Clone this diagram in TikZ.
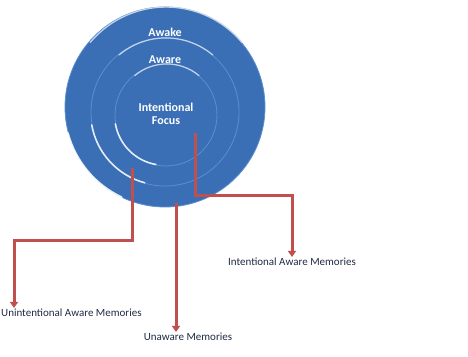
\documentclass[tikz,border=0pt]{standalone}
\usepackage{fontspec}
\setmainfont{Carlito}
\usepackage{tikz}
\usetikzlibrary{arrows.meta,calc}
\definecolor{ringblue}{HTML}{3A6FB6}
\definecolor{ringedge}{HTML}{5C8FD0}
\definecolor{memred}{HTML}{C0504D}
\definecolor{navy}{HTML}{1F2A44}
\tikzset{
  ring/.style={circle,fill=ringblue,draw=ringedge,line width=.8pt,inner sep=0pt},
  glint/.style={draw=white,line width=1.6pt,line cap=round,opacity=.85},
  softglint/.style={draw=white!70!ringblue,line width=1.2pt,line cap=round},
  circtext/.style={font=\fontsize{12}{13.5}\selectfont\bfseries,text=white,align=center},
  memtext/.style={font=\fontsize{11}{12}\selectfont,text=navy,inner sep=1pt},
  flow/.style={-{Triangle[length=6pt,width=8pt]},draw=memred,line width=3pt}
}
\begin{document}
\begin{tikzpicture}[x=1pt,y=1pt]
  \useasboundingbox (0,0) rectangle (468,-356);
  % nested circles
  \node[ring,minimum size=200pt] (awake) at (165,-107) {};
  \node[ring,minimum size=148pt] (aware) at (165,-112) {};
  \node[ring,minimum size=102pt] (focus) at (166,-115) {};
  % light rims
  \draw[softglint] (awake.40) arc[start angle=40,end angle=140,radius=99pt];
  \draw[glint] (awake.195) arc[start angle=195,end angle=245,radius=99pt];
  \draw[softglint] (aware.50) arc[start angle=50,end angle=130,radius=73pt];
  \draw[glint] (aware.190) arc[start angle=190,end angle=255,radius=73pt];
  \draw[softglint] (focus.50) arc[start angle=50,end angle=130,radius=50pt];
  \draw[glint] (focus.190) arc[start angle=190,end angle=260,radius=50pt];
  \node[circtext] (awaketext) at (165,-32) {Awake};
  \node[circtext] (awaretext) at (165,-60) {Aware};
  \node[circtext] (focustext) at (166,-114) {Intentional\\Focus};
  % memory labels
  \node[memtext] (iam) at (292,-262) {Intentional Aware Memories};
  \node[memtext,anchor=west] (uam) at (0,-313) {Unintentional Aware Memories};
  \node[memtext] (um) at (188,-337) {Unaware Memories};
  % connectors
  \coordinate (fc) at (195,-133);
  \coordinate (uc) at (132,-168);
  \coordinate (mc) at (176,-203);
  \draw[flow] (fc) -- ++(0,-62) -| (iam.north);
  \draw[flow] (uc) -- ++(0,-72) -| ([xshift=14pt]uam.north west);
  \draw[flow] (mc) -- (mc |- um.north);
\end{tikzpicture}
\end{document}
